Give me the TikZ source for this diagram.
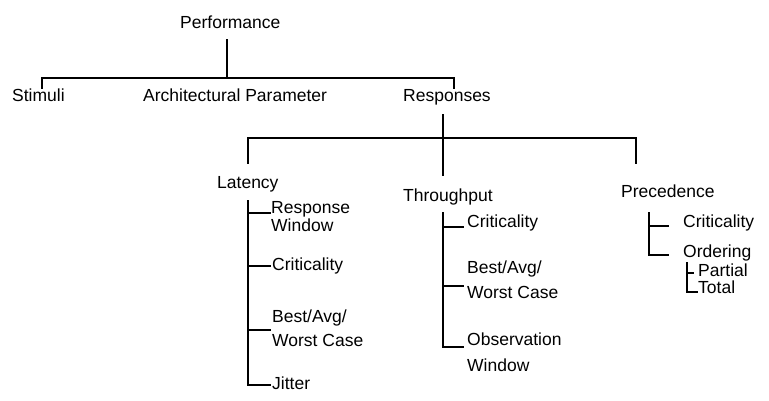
\documentclass[tikz,border=0pt]{standalone}
\usepackage{fontspec}
\setmainfont{Liberation Sans}
\newcommand{\lblfont}{\fontsize{17.5pt}{21pt}\selectfont}
\tikzset{
  lbl/.style={font=\lblfont, inner sep=0pt, anchor=base west, text=black},
  edge/.style={line width=1.2pt, black, line cap=rect}
}
\begin{document}
\begin{tikzpicture}[x=1pt,y=-1pt]
\useasboundingbox (0,0) rectangle (769,401);

% ---- labels ----
\node[lbl] (perf) at (180,29) {Performance};
\node[lbl] (stim) at (12,102) {Stimuli};
\node[lbl] (arch) at (143,102) {Architectural Parameter};
\node[lbl] (resp) at (403,102) {Responses};

\node[lbl] (lat) at (217,189) {Latency};
\node[lbl] (thr) at (403,202) {Throughput};
\node[lbl] (prec) at (621,198) {Precedence};

% latency leaves
\node[lbl] (lat-rw)  at (271,214) {Response};
\node[lbl] (lat-rw2) at (271,232) {Window};
\node[lbl] (lat-cr)  at (272,270) {Criticality};
\node[lbl] (lat-bw)  at (272,322) {Best/Avg/};
\node[lbl] (lat-bw2) at (272,346) {Worst Case};
\node[lbl] (lat-ji)  at (272,389) {Jitter};

% throughput leaves
\node[lbl] (thr-cr)  at (467,227) {Criticality};
\node[lbl] (thr-bw)  at (467,273) {Best/Avg/};
\node[lbl] (thr-bw2) at (467,298) {Worst Case};
\node[lbl] (thr-ow)  at (467,345) {Observation};
\node[lbl] (thr-ow2) at (467,371) {Window};

% precedence leaves
\node[lbl] (prec-cr) at (683,227) {Criticality};
\node[lbl] (prec-or) at (683,258) {Ordering};
\node[lbl] (ord-pa)  at (698,276) {Partial};
\node[lbl] (ord-to)  at (698,293) {Total};

% ---- junction points ----
\coordinate (perf-stem) at (227,40);
\coordinate (top-bar)   at (227,78);
\coordinate (stim-drop) at (42,88);
\coordinate (resp-drop) at (454,88);

\coordinate (resp-stem) at (443,115);
\coordinate (mid-bar)   at (443,138);
\coordinate (thr-drop)  at (443,175);
\coordinate (lat-drop)  at (248,163);
\coordinate (prec-drop) at (636,163);

\coordinate (lat-top)   at (248,201);
\coordinate (lat-b1)    at (248,213);
\coordinate (lat-b2)    at (248,266);
\coordinate (lat-b3)    at (248,330);
\coordinate (lat-b4)    at (248,385);

\coordinate (thr-top)   at (443,213);
\coordinate (thr-b1)    at (443,227);
\coordinate (thr-b2)    at (443,286);
\coordinate (thr-b3)    at (443,347);

\coordinate (prec-top)  at (649,213);
\coordinate (prec-b1)   at (649,226);
\coordinate (prec-b2)   at (649,255);

\coordinate (ord-top)   at (687,263);
\coordinate (ord-b1)    at (687,273);
\coordinate (ord-b2)    at (687,292);

% ---- connectors ----
% Performance
\draw[edge] (perf-stem) -- (top-bar);
\draw[edge] (stim-drop) |- (top-bar) -| (resp-drop);

% Responses
\draw[edge] (resp-stem) -- (thr-drop);
\draw[edge] (lat-drop) |- (mid-bar) -| (prec-drop);

% Latency
\draw[edge] (lat-top) -- (lat-b4) -- ++(22,0);
\draw[edge] (lat-b1) -- ++(22,0);
\draw[edge] (lat-b2) -- ++(22,0);
\draw[edge] (lat-b3) -- ++(22,0);

% Throughput
\draw[edge] (thr-top) -- (thr-b3) -- ++(20,0);
\draw[edge] (thr-b1) -- ++(20,0);
\draw[edge] (thr-b2) -- ++(20,0);

% Precedence
\draw[edge] (prec-top) -- (prec-b2) -- ++(19,0);
\draw[edge] (prec-b1) -- ++(19,0);

% Ordering
\draw[edge] (ord-top) -- (ord-b2) -- ++(10,0);
\draw[edge] (ord-b1) -- ++(6,0);
\end{tikzpicture}
\end{document}
